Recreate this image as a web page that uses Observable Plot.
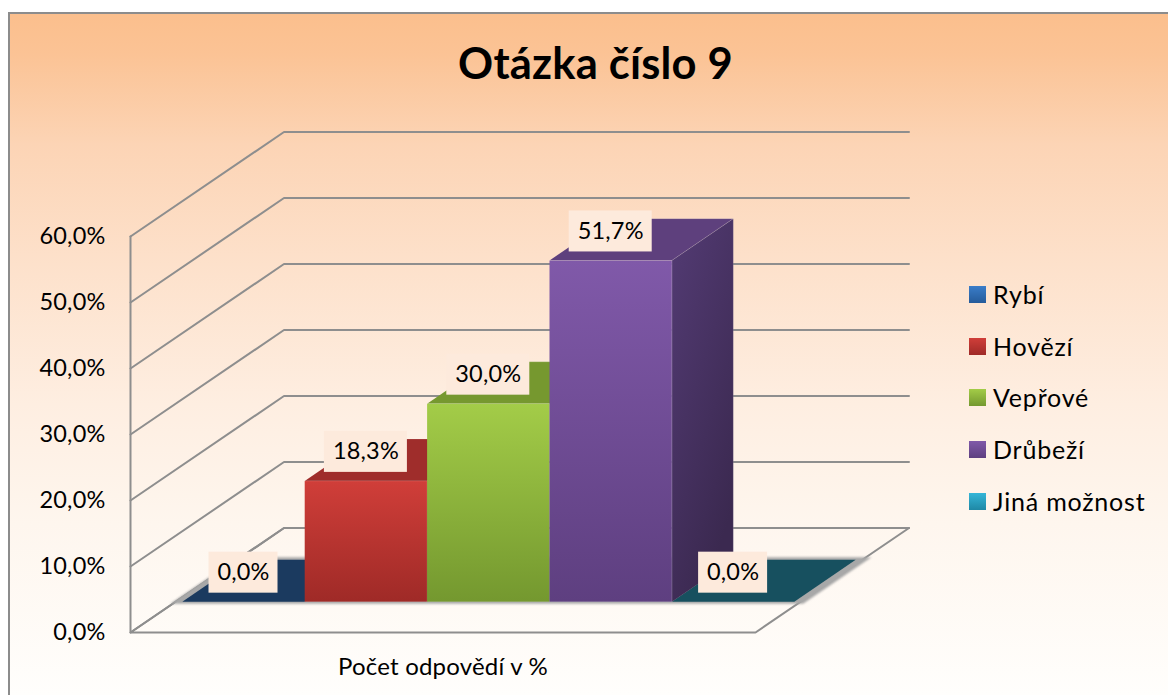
<!DOCTYPE html>
<html><head><meta charset="utf-8">
<script src="https://cdn.jsdelivr.net/npm/d3@7"></script>
<script src="https://cdn.jsdelivr.net/npm/@observablehq/plot@0.6"></script>
<style>
html,body{margin:0;padding:0;background:#fff;width:1168px;height:695px;overflow:hidden}
#bg{position:absolute;left:8px;top:12px;right:0;bottom:0;border-left:2px solid #8c8c8c;border-top:2px solid #8c8c8c;
background:linear-gradient(to bottom,#fbbf8d 0,#fbc395 40px,#fcd4b5 130px,#fde1cb 250px,#feeee1 390px,#fef6ee 510px,#fffefc 681px)}
#chart{position:absolute;left:0;top:0}
#legend{position:absolute;left:969px;top:0;font:25px Lato,sans-serif;letter-spacing:.8px;color:#000}
.li{position:absolute;white-space:nowrap;display:flex;align-items:center;height:30px}
.sw{width:17px;height:17px;margin-right:7px;flex:none}
</style></head><body>
<div id="bg"></div><div id="chart"></div><div id="legend"></div>
<script>
// Data
const categories = ["Rybí","Hovězí","Vepřové","Drůbeží","Jiná možnost"];
const values = [0.0,18.3,30.0,51.7,0.0];
const yTicks = [0,10,20,30,40,50,60];
const chartTitle = "Otázka číslo 9";
const axisTitle = "Počet odpovědí v %";

// Colours
const front = [["#3a7dc9","#255b9a"],["#d03e39","#9f2a27"],["#a3cc48","#74982f"],["#8059a9","#5e3f80"],["#35b6d8","#1f88a5"]];
const topFace = ["#1b3a5f","#9f2d2b","#76982f","#5e407d","#17505f"];
const sideFace = ["#1b3a5f",["#9f2d2b","#7a2120"],["#76982f","#5a7524"],["#533b74","#3b2950"],"#17505f"];

// Oblique projection expressed in scale units
const slot = 122.4, perPct = 396/60;
const depthX = 153.5/slot, depthY = 104.5/perPct;
const floorW = 625/slot, barD0 = 0.295, barD1 = 0.695, barPad = 0.0533;
const P = (c,v,d) => ({x:c+d*depthX, y:v+d*depthY});
const poly = (pts,fill,extra={}) => Plot.line(pts,{x:"x",y:"y",fill,stroke:"none",...extra});
const wire = (pts) => Plot.line(pts,{x:"x",y:"y",stroke:"#8e8e8e",strokeWidth:2,strokeLinejoin:"miter"});
const edge = {stroke:"#fff",strokeOpacity:0.12,strokeWidth:1};

const defs = () => {
  const ns="http://www.w3.org/2000/svg", d=document.createElementNS(ns,"defs");
  const grad=(id,a,b,diag)=>{const g=document.createElementNS(ns,"linearGradient");g.id=id;
    g.setAttribute("x1","0");g.setAttribute("y1","0");g.setAttribute("x2",diag?"0.5":"0");g.setAttribute("y2","1");
    [[0,a],[1,b]].forEach(([o,c])=>{const s=document.createElementNS(ns,"stop");s.setAttribute("offset",o);s.setAttribute("stop-color",c);g.appendChild(s)});
    d.appendChild(g)};
  front.forEach((c,i)=>grad("f"+i,c[0],c[1]));
  sideFace.forEach((c,i)=>{if(Array.isArray(c))grad("s"+i,c[0],c[1],true)});
  return d;
};

const marks = [defs];
yTicks.forEach(v=>{
  marks.push(wire([P(0,v,0),P(0,v,1),P(floorW,v,1)]));
});
marks.push(wire([P(0,0,0),P(0,60,0)]));
marks.push(wire([P(0,0,1),P(0,0,0),P(floorW,0,0),P(floorW,0,1)]));

// soft shadow under the bars
marks.push(poly([P(-0.02,0,barD0-0.02),P(5.15,0,barD0-0.02),P(5.15,0,barD1+0.025),P(-0.02,0,barD1+0.025)],"#a8a8a8",{imageFilter:"blur(1.2px)"}));

const drawOrder = [0,4,1,2,3];
drawOrder.forEach(i=>{
  const a=barPad+i,b=a+1,v=values[i];
  marks.push(poly([P(a,v,barD0),P(b,v,barD0),P(b,v,barD1),P(a,v,barD1)],topFace[i],v>0?edge:{}));
  if(v>0){
    marks.push(poly([P(b,0,barD0),P(b,v,barD0),P(b,v,barD1),P(b,0,barD1)],`url(#s${i})`,edge));
    marks.push(poly([P(a,0,barD0),P(b,0,barD0),P(b,v,barD0),P(a,v,barD0)],`url(#f${i})`,edge));
  }
});

// data labels
const fmt = v=>v.toFixed(1).replace(".",",")+"%";
const labels = values.map((v,i)=>{const p=P(barPad+i+0.5,v,barD0);return {...p,t:fmt(v),w:(fmt(v).length===4?34.5:41.5)/slot}});
const labelH = 20.5/perPct, labelLift = 29/perPct;
marks.push(Plot.rect(labels,{x1:d=>d.x-d.w,x2:d=>d.x+d.w,y1:d=>d.y+labelLift-labelH,y2:d=>d.y+labelLift+labelH,fill:"#fdeadc"}));
marks.push(Plot.text(labels,{x:"x",y:d=>d.y+labelLift,text:"t",fontSize:23.5,fill:"#000",lineAnchor:"middle"}));

marks.push(Plot.axisY({ticks:yTicks,tickFormat:fmt,tickSize:0,tickPadding:25,label:null,fontSize:23.5,color:"#000"}));
marks.push(Plot.text([axisTitle],{x:floorW/2,y:0,dy:35,fontSize:24,fill:"#000"}));
marks.push(Plot.text([chartTitle],{frameAnchor:"top",dx:-54,dy:65,fontSize:43.5,fontWeight:700,fill:"#000",lineAnchor:"middle"}));

const plot = Plot.plot({
  width:1168,height:695,marginLeft:130,marginRight:0,marginTop:0,marginBottom:63,
  x:{domain:[0,1038/slot],axis:null},
  y:{domain:[0,632/perPct]},
  style:{background:"transparent",fontFamily:"Lato, sans-serif",overflow:"visible",letterSpacing:"0.2px"},
  marks
});
document.getElementById("chart").appendChild(plot);

// legend
const legY=[294,346,397,449,501];
const lg=document.getElementById("legend");
categories.forEach((c,i)=>{
  const r=document.createElement("div");r.className="li";r.style.top=(legY[i]-15)+"px";
  const s=document.createElement("div");s.className="sw";s.style.background=`linear-gradient(${front[i][0]},${front[i][1]})`;
  const t=document.createElement("span");t.textContent=c;
  r.append(s,t);lg.appendChild(r);
});
</script></body></html>
